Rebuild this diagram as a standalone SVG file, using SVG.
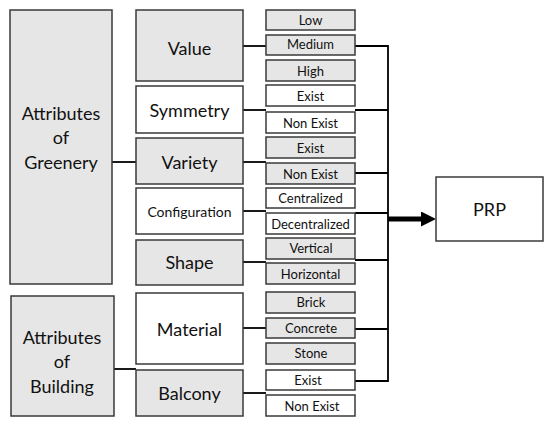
<svg xmlns="http://www.w3.org/2000/svg" width="550" height="422" viewBox="0 0 550 422">
<style>
rect{stroke:#3a3a3a;stroke-width:1.5}
.g{fill:#e6e6e6}
.w{fill:#ffffff}
text{font-family:Lato,"Open Sans","Liberation Sans",sans-serif;fill:#111;text-anchor:middle;dominant-baseline:central}
.big{font-size:18px}
.mid{font-size:18px}
.sm{font-size:13px}
.conn line,.conn polyline{stroke:#000;stroke-width:1.8;fill:none}
</style>
<defs>
<marker id="ah" markerWidth="3" markerHeight="3" refX="0" refY="1.5" orient="auto" markerUnits="strokeWidth" viewBox="0 0 3 3"><path d="M0,0 L3,1.5 L0,3 Z" fill="#000"/></marker>
</defs>
<rect width="550" height="422" fill="#fff" style="stroke:none"/>
<g class="conn">
<line x1="112" y1="162" x2="136" y2="162"/>
<line x1="114" y1="369" x2="136" y2="369"/>
<line x1="243" y1="46" x2="266" y2="46"/>
<line x1="243" y1="110" x2="266" y2="110"/>
<line x1="243" y1="162" x2="266" y2="162"/>
<line x1="243" y1="211" x2="266" y2="211"/>
<line x1="243" y1="262" x2="266" y2="262"/>
<line x1="243" y1="328" x2="266" y2="328"/>
<line x1="243" y1="393" x2="266" y2="393"/>
<polyline points="355,46 388,46 388,381 355,381"/>
<line x1="355" y1="110" x2="388" y2="110"/>
<line x1="355" y1="173" x2="388" y2="173"/>
<line x1="355" y1="213" x2="388" y2="213"/>
<line x1="355" y1="260" x2="388" y2="260"/>
<line x1="355" y1="329" x2="388" y2="329"/>
<line x1="388" y1="219" x2="421" y2="219" style="stroke-width:5" marker-end="url(#ah)"/>
</g>
<g id="greenery"><rect class="g" x="10" y="10" width="102" height="274"/><text class="big" x="61" y="113">Attributes</text><text class="big" x="61" y="137">of</text><text class="big" x="61" y="162">Greenery</text></g>
<g id="building"><rect class="g" x="11" y="296" width="103" height="120"/><text class="big" x="62" y="337">Attributes</text><text class="big" x="62" y="361">of</text><text class="big" x="62" y="386">Building</text></g>
<g id="value"><rect class="g" x="136" y="10" width="107" height="71"/><text class="mid" x="189.5" y="48">Value</text></g>
<g id="symmetry"><rect class="w" x="136" y="86" width="107" height="47"/><text class="mid" x="189.5" y="110">Symmetry</text></g>
<g id="variety"><rect class="g" x="136" y="138" width="107" height="46"/><text class="mid" x="189.5" y="162">Variety</text></g>
<g id="configuration"><rect class="w" x="136" y="188" width="107" height="46"/><text class="sm" style="font-size:14px" x="189.5" y="211">Configuration</text></g>
<g id="shape"><rect class="g" x="136" y="240" width="107" height="45"/><text class="mid" x="189.5" y="262">Shape</text></g>
<g id="material"><rect class="w" x="136" y="293" width="107" height="71"/><text class="mid" x="189.5" y="329">Material</text></g>
<g id="balcony"><rect class="g" x="136" y="370" width="107" height="46"/><text class="mid" x="189.5" y="393">Balcony</text></g>
<g id="low"><rect class="g" x="266" y="10" width="89" height="20"/><text class="sm" x="310.5" y="20">Low</text></g>
<g id="medium"><rect class="g" x="266" y="35" width="89" height="20"/><text class="sm" x="310.5" y="44">Medium</text></g>
<g id="high"><rect class="g" x="266" y="60" width="89" height="21"/><text class="sm" x="310.5" y="71">High</text></g>
<g id="sym-exist"><rect class="w" x="266" y="85" width="89" height="21"/><text class="sm" x="310.5" y="96">Exist</text></g>
<g id="sym-nonexist"><rect class="w" x="266" y="112" width="89" height="21"/><text class="sm" x="310.5" y="123">Non Exist</text></g>
<g id="var-exist"><rect class="g" x="266" y="137" width="89" height="21"/><text class="sm" x="310.5" y="148">Exist</text></g>
<g id="var-nonexist"><rect class="g" x="266" y="163" width="89" height="21"/><text class="sm" x="310.5" y="174">Non Exist</text></g>
<g id="centralized"><rect class="w" x="266" y="188" width="89" height="20"/><text class="sm" x="310.5" y="198">Centralized</text></g>
<g id="decentralized"><rect class="w" x="266" y="213" width="89" height="21"/><text class="sm" x="310.5" y="224">Decentralized</text></g>
<g id="vertical"><rect class="g" x="266" y="238" width="89" height="21"/><text class="sm" x="311" y="248">Vertical</text></g>
<g id="horizontal"><rect class="g" x="266" y="263" width="89" height="21"/><text class="sm" x="310.5" y="274">Horizontal</text></g>
<g id="brick"><rect class="g" x="266" y="292" width="89" height="21"/><text class="sm" x="311" y="302">Brick</text></g>
<g id="concrete"><rect class="g" x="266" y="318" width="89" height="20"/><text class="sm" x="311" y="328">Concrete</text></g>
<g id="stone"><rect class="g" x="266" y="343" width="89" height="21"/><text class="sm" x="311" y="353">Stone</text></g>
<g id="bal-exist"><rect class="w" x="266" y="370" width="89" height="20"/><text class="sm" x="308" y="380">Exist</text></g>
<g id="bal-nonexist"><rect class="w" x="266" y="395" width="89" height="21"/><text class="sm" x="312" y="406">Non Exist</text></g>
<g id="prp"><rect class="w" x="436" y="177" width="107" height="64"/><text class="mid" x="489.5" y="209">PRP</text></g>
</svg>
